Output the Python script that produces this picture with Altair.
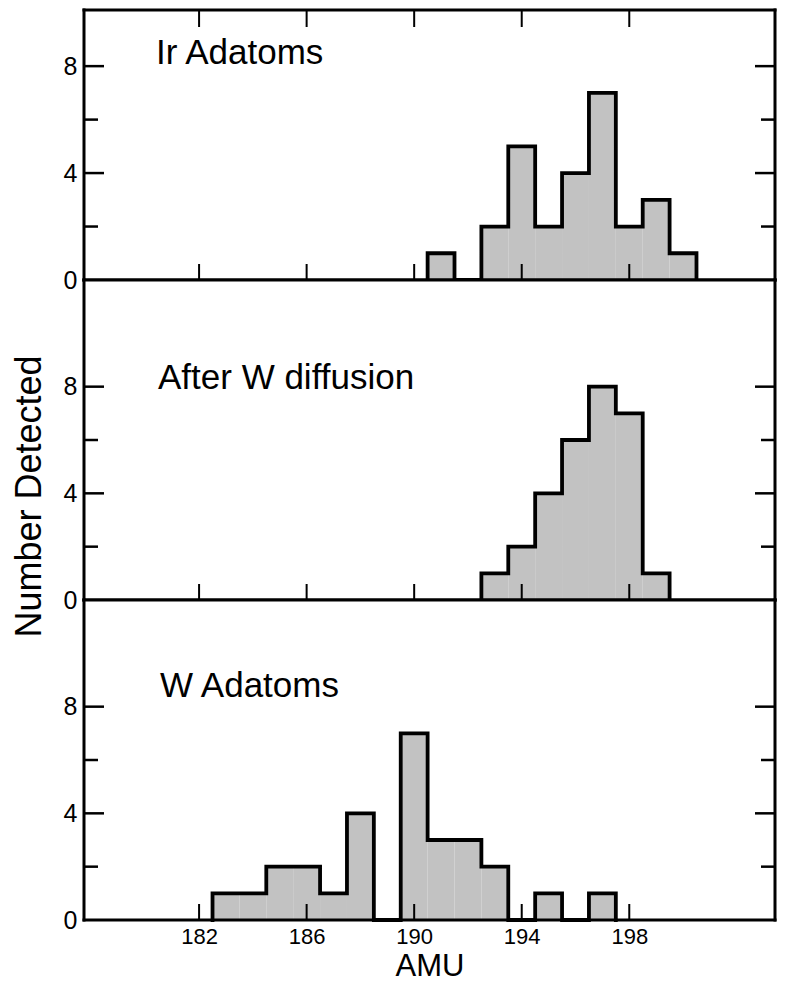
import altair as alt
import pandas as pd

# ---- data ----
panel_names = ["Ir Adatoms", "After W diffusion", "W Adatoms"]

amu_ir = [191, 192, 193, 194, 195, 196, 197, 198, 199, 200]
cnt_ir = [1, 0, 2, 5, 2, 4, 7, 2, 3, 1]

amu_diff = [193, 194, 195, 196, 197, 198, 199]
cnt_diff = [1, 2, 4, 6, 8, 7, 1]

amu_w = [183, 184, 185, 186, 187, 188, 189, 190, 191, 192, 193, 194, 195, 196, 197]
cnt_w = [1, 1, 2, 2, 1, 4, 0, 7, 3, 3, 2, 0, 1, 0, 1]

x_ticks = [182, 186, 190, 194, 198]
y_major = [4, 8]
y_minor = [2, 6]
y_labels = [0, 4, 8]

x_domain = [177.72, 203.42]
y_domains = [[0, 10.1], [0, 12], [0, 12]]

W = 691
heights = [270, 320, 320]
FONT = "Liberation Sans"
FILL = "#c2c2c2"
FW = 1.5  # half frame thickness


def steps(amu, cnt):
    rows = [{"x": amu[0] - 0.5, "y": 0, "o": 0}]
    for i, (a, c) in enumerate(zip(amu, cnt)):
        rows.append({"x": a - 0.5, "y": c, "o": i + 1})
    rows.append({"x": amu[-1] + 0.5, "y": 0, "o": len(amu) + 1})
    return pd.DataFrame(rows)


def panel(idx, amu, cnt):
    H = heights[idx]
    df = steps(amu, cnt)
    xs = alt.Scale(domain=x_domain, nice=False, zero=False)
    ys = alt.Scale(domain=y_domains[idx], nice=False)

    if idx == 2:
        xaxis = alt.Axis(values=x_ticks, ticks=False, tickSize=0, domain=False,
                         grid=False, labelFontSize=22, labelPadding=6,
                         labelFont=FONT, labelColor="black",
                         title="AMU", titleFontSize=31, titlePadding=4.5,
                         titleFont=FONT, titleFontWeight="normal", titleColor="black")
    else:
        xaxis = None

    if idx == 1:
        yaxis = alt.Axis(values=y_labels, ticks=False, tickSize=0, domain=False,
                         grid=False, labelFontSize=25, labelPadding=7,
                         labelFont=FONT, labelColor="black",
                         title="Number Detected", titleFontSize=36,
                         titleFont=FONT, titleFontWeight="normal", titleColor="black",
                         titleX=-55, titleY=216, titleAngle=270,
                         titleBaseline="middle", titleAlign="center")
    else:
        yaxis = alt.Axis(values=y_labels, ticks=False, tickSize=0, domain=False,
                         grid=False, labelFontSize=25, labelPadding=7,
                         labelFont=FONT, labelColor="black", title=None)

    X = alt.X("x:Q", scale=xs, axis=xaxis)
    Y = alt.Y("y:Q", scale=ys, axis=yaxis)

    area = alt.Chart(df).mark_area(interpolate="step-after", color=FILL).encode(
        x=X, y=Y, order="o:Q")
    line = alt.Chart(df).mark_line(interpolate="step-after", color="black",
                                   strokeWidth=3.8, strokeJoin="miter",
                                   strokeCap="square").encode(
        x=X, y=Y, order="o:Q")

    xt = pd.DataFrame({"x": x_ticks})
    ymaj = pd.DataFrame({"y": y_major})
    ymin = pd.DataFrame({"y": y_minor})

    layers = [area, line]
    # inward x ticks (bottom of every panel, top of the first)
    layers.append(alt.Chart(xt).mark_tick(orient="vertical", size=16, thickness=2,
                                          color="black", opacity=1).encode(
        x=X, y=alt.value(H - 8)))
    if idx == 0:
        layers.append(alt.Chart(xt).mark_tick(orient="vertical", size=17, thickness=2,
                                              color="black", opacity=1).encode(
            x=X, y=alt.value(8.5)))
    # inward y ticks, left and right
    for d, ln in [(ymaj, 20), (ymin, 14)]:
        layers.append(alt.Chart(d).mark_tick(orient="horizontal", size=ln, thickness=2.5,
                                             color="black", opacity=1).encode(
            y=Y, x=alt.value(ln / 2)))
        layers.append(alt.Chart(d).mark_tick(orient="horizontal", size=ln, thickness=2.5,
                                             color="black", opacity=1).encode(
            y=Y, x=alt.value(W - ln / 2)))

    # frame drawn as filled bands
    one = pd.DataFrame({"k": [0]})
    edges = [
        (-FW, W + FW, -FW, FW),
        (-FW, W + FW, H - FW, H + FW),
        (-FW, FW, -FW, H + FW),
        (W - FW, W + FW, -FW, H + FW),
    ]
    for x1, x2, y1, y2 in edges:
        layers.append(alt.Chart(one).mark_rect(color="black").encode(
            x=alt.value(x1), x2=alt.value(x2), y=alt.value(y1), y2=alt.value(y2)))

    label_pos = [(72, 54), (74, 109), (76, 97)]
    lx, ly = label_pos[idx]
    lab = alt.Chart(pd.DataFrame({"name": [panel_names[idx]]})).mark_text(
        align="left", baseline="alphabetic", fontSize=35, font=FONT, color="black"
    ).encode(text="name:N", x=alt.value(lx), y=alt.value(ly))
    layers.append(lab)

    return alt.layer(*layers).properties(width=W, height=H)


p0 = panel(0, amu_ir, cnt_ir)
p1 = panel(1, amu_diff, cnt_diff)
p2 = panel(2, amu_w, cnt_w)

chart = alt.vconcat(p0, p1, p2, spacing=0, bounds="flush").properties(
    padding={"left": 2, "top": 0, "right": 0, "bottom": 0},
    background="white",
).configure_view(
    strokeWidth=0, fill="white"
)

chart.save("out.html", embed_options={"renderer": "svg", "actions": False})
